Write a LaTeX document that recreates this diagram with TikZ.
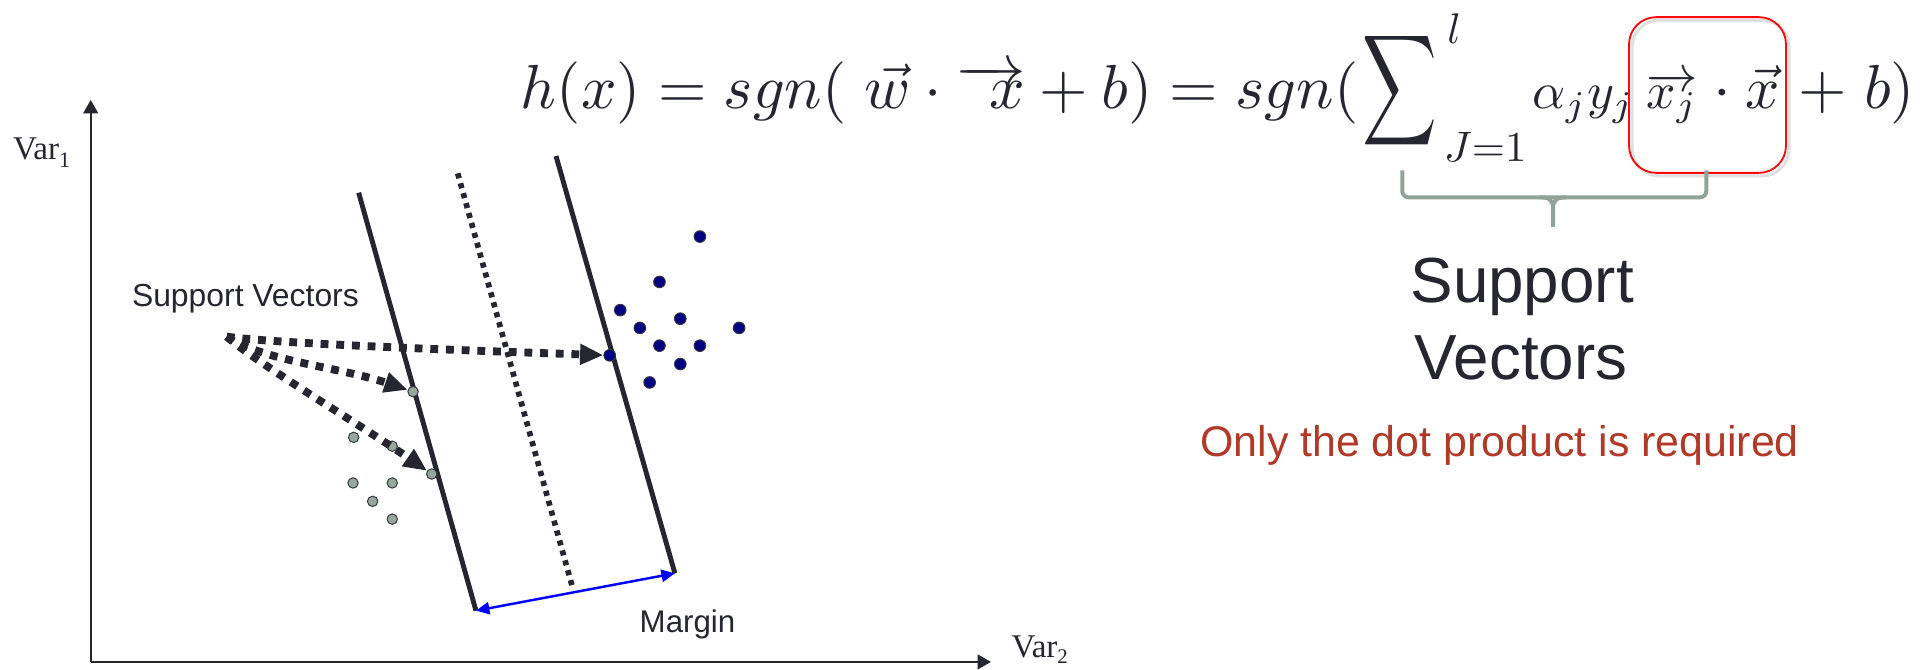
\documentclass[tikz,border=0pt]{standalone}
\usepackage{fontspec}
\usepackage{graphicx}
\usetikzlibrary{arrows.meta}
\newfontfamily\arialf{Liberation Sans}
\newfontfamily\serf{Liberation Serif}
\definecolor{ink}{RGB}{38,38,48}
\definecolor{navyfill}{RGB}{0,0,128}
\definecolor{dotline}{RGB}{55,55,65}
\definecolor{greyfill}{RGB}{150,168,155}
\definecolor{mblue}{RGB}{0,0,255}
\definecolor{bracecol}{RGB}{145,163,152}
\definecolor{boxred}{RGB}{250,10,10}
\definecolor{redtxt}{RGB}{178,56,40}
\begin{document}
\begin{tikzpicture}[x=1pt,y=-1pt,
  axis/.style={draw=ink, line width=1.8pt, -{Triangle[length=11pt,width=12pt]}},
  plane/.style={draw=ink, line width=4pt},
  midplane/.style={draw=ink, line width=4.6pt, dash pattern=on 4.2pt off 4.2pt},
  svarrow/.style={draw=ink, line width=6.4pt, dash pattern=on 6.4pt off 6.4pt, -{Triangle[length=19pt,width=16pt]}},
  bdot/.style={circle, draw=dotline, fill=navyfill, line width=0.8pt, minimum size=9.5pt, inner sep=0pt},
  gdot/.style={circle, draw=dotline, fill=greyfill, line width=0.8pt, minimum size=8.5pt, inner sep=0pt},
  margarrow/.style={draw=mblue, line width=2pt, {Triangle[length=11pt,width=10pt]}-{Triangle[length=11pt,width=10pt]}},
  txt/.style={inner sep=0pt, text=ink, anchor=base west},
  eq/.style={inner sep=0pt, text=ink, anchor=base west},
  hlbox/.style={draw=boxred, line width=1.5pt, rounded corners=22pt, inner sep=0pt},
  bracestyle/.style={draw=bracecol, line width=3.2pt}
]
\useasboundingbox (0,0) rectangle (1568,546);
\fill[white] (0,0) rectangle (1568,546);

% axes
\coordinate (O) at (74,540);
\coordinate (ytop) at (74,81.5);
\coordinate (xend) at (808.5,540);
\draw[axis] (O) -- (ytop);
\draw[axis] (O) -- (xend);
\node[txt, font=\serf\fontsize{27}{30}\selectfont] (v1) at (10.5,130.5) {Var\raisebox{-6pt}{\fontsize{18}{20}\selectfont 1}};
\node[txt, font=\serf\fontsize{27}{30}\selectfont] (v2) at (825,536.5) {Var\raisebox{-5pt}{\fontsize{17}{20}\selectfont 2}};

% hyperplanes
\coordinate (L1t) at (292.6,157.2);
\coordinate (L1b) at (388.3,498.2);
\coordinate (L2t) at (453.6,127.3);
\coordinate (L2b) at (550.6,467.7);
\coordinate (Mt) at (373.4,141.4);
\coordinate (Mb) at (467.5,480.8);
\draw[plane] (L1t) -- (L1b);
\draw[plane] (L2t) -- (L2b);
\draw[midplane] (Mt) -- (Mb);

% margin
\draw[margarrow] (L1b) -- (L2b);
\node[txt, font=\arialf\fontsize{25.5}{30}\selectfont] (marg) at (521.7,516) {Margin};

% blue dots
\node[bdot] (b1) at (571,193) {};
\node[bdot] (b2) at (538,230) {};
\node[bdot] (b3) at (506,253) {};
\node[bdot] (b4) at (522,267.5) {};
\node[bdot] (b5) at (555,260) {};
\node[bdot] (b6) at (603,267.5) {};
\node[bdot] (b7) at (538,282) {};
\node[bdot] (b8) at (571,282) {};
\node[bdot] (b9) at (555,297) {};
\node[bdot] (b10) at (530,312) {};
\node[bdot] (sv1) at (497.4,289.9) {};

% grey dots
\node[gdot] (g1) at (288.5,356.8) {};
\node[gdot] (g2) at (320,364) {};
\node[gdot] (g3) at (288,394) {};
\node[gdot] (g4) at (320,394) {};
\node[gdot] (g5) at (304,409) {};
\node[gdot] (g6) at (320,423.5) {};
\node[gdot] (sv2) at (337,319.5) {};
\node[gdot] (sv3) at (352.2,386.7) {};

% support vector label and arrows
\node[txt, font=\arialf\fontsize{26}{30}\selectfont] (svl) at (107.5,250) {Support Vectors};
\coordinate (svo) at (185,274.6);
\draw[svarrow] (svo) .. controls +(40,6) and +(-90,-3) .. (sv1);
\draw[svarrow] (svo) .. controls +(30,20) and +(-60,-20) .. (sv2);
\draw[svarrow] (svo) .. controls +(25,22) and +(-55,-38) .. (sv3);

% equation
\node[eq] (e1) at (424.8,88.4) {\resizebox{683pt}{!}{$h(x)=sgn(\;\vec{w}\cdot\overrightarrow{\;\;x}+b)=sgn($}};
\node[inner sep=0pt, anchor=north west, text=ink] (sig) at (1111,23) {\resizebox*{61pt}{101pt}{$\displaystyle\sum$}};
\node[eq] (up) at (1180.5,35.3) {\scalebox{3.5}{$l$}};
\node[eq] (lo) at (1178,132) {\resizebox{67pt}{!}{$J{=}1$}};
\node[eq] (ay) at (1250,88.4) {\resizebox{83pt}{!}{$\alpha_j y_j$}};
\node[eq] (xj) at (1343,88.4) {\resizebox{42pt}{!}{$\overrightarrow{x_j}$}};
\node[eq, anchor=base] (cd) at (1405,88.4) {\scalebox{5.2}{$\cdot$}};
\node[eq] (vx) at (1424,88.4) {\resizebox{28pt}{!}{$\vec{x}$}};
\node[eq] (pb) at (1467,88.4) {\resizebox{95pt}{!}{$\mathord{+}\;b)$}};

% highlight box with soft shadow
\draw[black!12, line width=2.5pt, rounded corners=22pt] (1331.5,16.5) rectangle (1459.5,143.5);
\node[hlbox, minimum width=128pt, minimum height=127pt] (hl) at (1393,77.5) {};

% brace
\draw[bracestyle, rounded corners=5pt] (1144,139) -- (1144,161) -- (1392,161) -- (1392,139);
\draw[bracestyle] (1256,161) .. controls (1264,161) and (1267,163) .. (1267,170) -- (1267,185);
\draw[bracestyle] (1278,161) .. controls (1270,161) and (1267,163) .. (1267,170);

% right texts
\node[txt, font=\arialf\fontsize{52}{60}\selectfont] (sva) at (1150.5,247) {Support};
\node[txt, font=\arialf\fontsize{52}{60}\selectfont] (svb) at (1154,310) {Vectors};
\node[inner sep=0pt, anchor=base west, text=redtxt, font=\arialf\fontsize{35}{40}\selectfont] (note) at (979,372.5) {Only the dot product is required};
\end{tikzpicture}
\end{document}
